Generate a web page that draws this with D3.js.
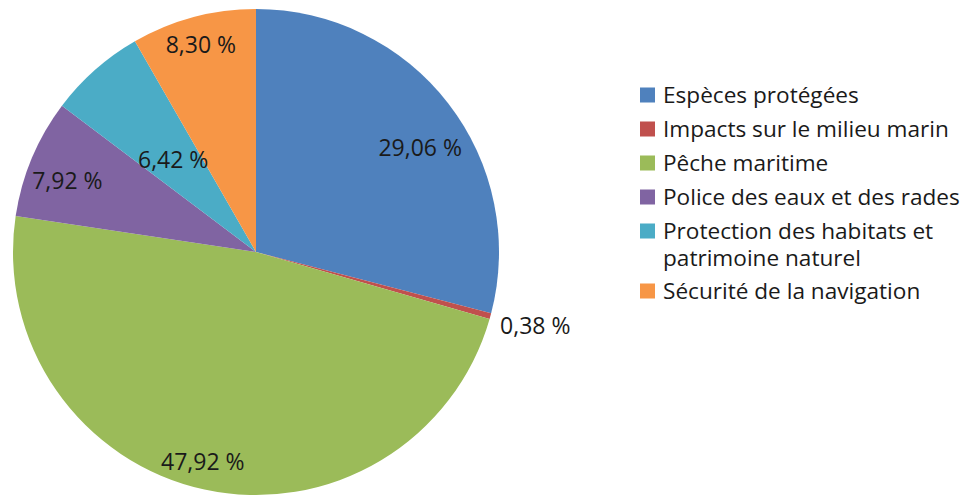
<!DOCTYPE html>
<html>
<head>
<meta charset="utf-8">
<script src="https://cdn.jsdelivr.net/npm/d3@7"></script>
<style>
  html, body { margin: 0; padding: 0; background: #fff; }
  svg text { font-family: "Open Sans", sans-serif; }
</style>
</head>
<body>
<div id="chart-pie"></div>
<script>
// ── Data ────────────────────────────────────────
const CATEGORIES = [
  "Espèces protégées",
  "Impacts sur le milieu marin",
  "Pêche maritime",
  "Police des eaux et des rades",
  "Protection des habitats et patrimoine naturel",
  "Sécurité de la navigation"
];
const SHARES = [29.06, 0.38, 47.92, 7.92, 6.42, 8.30];
const LABELS = ["29,06 %", "0,38 %", "47,92 %", "7,92 %", "6,42 %", "8,30 %"];
// legend text split onto lines as in the original
const LEGEND_LINES = [
  ["Espèces protégées"],
  ["Impacts sur le milieu marin"],
  ["Pêche maritime"],
  ["Police des eaux et des rades"],
  ["Protection des habitats et", "patrimoine naturel"],
  ["Sécurité de la navigation"]
];

// Office palette
const COLOR = d3.scaleOrdinal()
  .domain(CATEGORIES)
  .range(["#4F81BD", "#C0504D", "#9BBB59", "#8064A2", "#4BACC6", "#F79646"]);

(function () {
  const W = 962, H = 498;
  const cx = 256, cy = 252, R = 243;
  const LABEL_FONT = 23, LEGEND_FONT = 22.6;

  // label placement (best-fit look): radius ratio per slice (null = outside)
  // and a small angular nudge in degrees
  const LABEL_RATIO = [0.80, null, 0.89, 0.83, 0.51, 0.88];
  const LABEL_NUDGE = [5.3, 1.5, 2, -2, -0.5, 0];

  const svg = d3.select("#chart-pie").append("svg")
    .attr("width", W).attr("height", H);

  const rows = CATEGORIES.map((c, i) => ({ name: c, value: SHARES[i], label: LABELS[i], i }));

  const pie = d3.pie().sort(null).value(d => d.value);
  const arc = d3.arc().innerRadius(0).outerRadius(R);
  const arcs = pie(rows);

  const g = svg.append("g").attr("transform", `translate(${cx},${cy})`);

  g.selectAll("path.slice")
    .data(arcs)
    .join("path")
      .attr("class", "slice")
      .attr("d", arc)
      .attr("fill", d => COLOR(d.data.name));

  // ── Data labels ───────────────────────────────
  g.selectAll("text.lbl")
    .data(arcs)
    .join("text")
      .attr("class", "lbl")
      .each(function (d) {
        const i = d.data.i;
        const mid = (d.startAngle + d.endAngle) / 2 + LABEL_NUDGE[i] * Math.PI / 180;
        const ratio = LABEL_RATIO[i];
        const t = d3.select(this);
        if (ratio == null) {
          const [x, y] = d3.pointRadial(mid, R + 12);
          t.attr("x", x).attr("y", y).attr("text-anchor", "start");
        } else {
          const [x, y] = d3.pointRadial(mid, R * ratio);
          t.attr("x", x).attr("y", y).attr("text-anchor", "middle");
        }
      })
      .attr("dy", "0.35em")
      .attr("font-size", LABEL_FONT + "px")
      .attr("fill", "#1a1a1a")
      .text(d => d.data.label);

  // ── Legend ────────────────────────────────────
  const legend = svg.append("g").attr("transform", "translate(640,0)");
  const ROW_Y = [95, 129, 163, 197, 231, 291];
  const LINE_H = 27;

  rows.forEach((d, i) => {
    const y = ROW_Y[i];
    legend.append("rect")
      .attr("x", 0).attr("y", y - 7.5)
      .attr("width", 15).attr("height", 15)
      .attr("fill", COLOR(d.name));
    LEGEND_LINES[i].forEach((line, k) => {
      legend.append("text")
        .attr("x", 23)
        .attr("y", y + k * LINE_H)
        .attr("dy", "0.35em")
        .attr("font-size", LEGEND_FONT + "px")
        .attr("fill", "#1a1a1a")
        .text(line);
    });
  });
})();
</script>
</body>
</html>
